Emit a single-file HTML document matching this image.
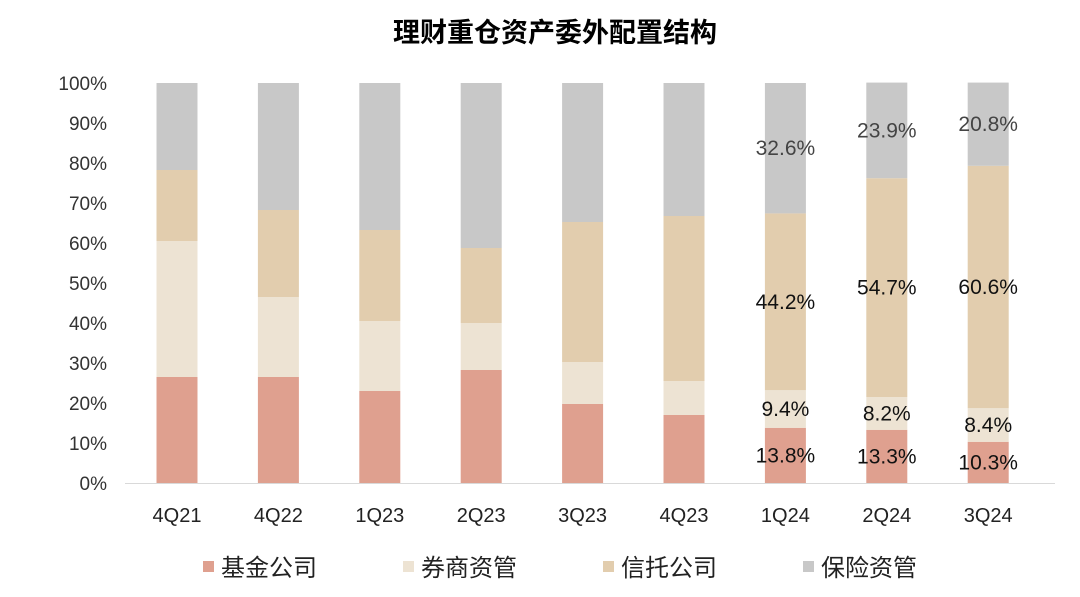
<!DOCTYPE html>
<html><head><meta charset="utf-8"><style>
body{margin:0;background:#fff;}
svg{display:block;font-family:"Liberation Sans","Noto Sans CJK SC",sans-serif;}
</style></head><body>
<svg id="chart" width="1080" height="597">
<text x="555" y="42" text-anchor="middle" font-size="27" font-weight="bold" fill="#000">理财重仓资产委外配置结构</text>
<g id="yaxis"></g><g id="bars"></g><g id="xaxis"></g><g id="legend"></g>
</svg>
<script>
const categories=["4Q21","4Q22","1Q23","2Q23","3Q23","4Q23","1Q24","2Q24","3Q24"];
const seriesNames=["基金公司","券商资管","信托公司","保险资管"];
const fund=[26.5,26.5,23,28.25,19.75,17,13.8,13.3,10.3];
const broker=[34,20,17.5,11.75,10.5,8.5,9.4,8.2,8.4];
const trust=[17.75,21.75,22.75,18.75,35,41.25,44.2,54.7,60.6];
const insurance=[21.75,31.75,36.75,41.25,34.75,33.25,32.6,23.9,20.8];
const labeled=[false,false,false,false,false,false,true,true,true];
const yTicks=[0,10,20,30,40,50,60,70,80,90,100];
const colors=["#DFA08F","#EDE3D3","#E2CDAE","#C8C8C8"];
const NS="http://www.w3.org/2000/svg";
const y0=483,plotH=400,x0=177,step=101.4,bw=41;
const yS=v=>y0-v/100*plotH;
const xS=i=>x0+i*step;
function mk(tag,attrs,parent,text){const e=document.createElementNS(NS,tag);for(const k in attrs)e.setAttribute(k,attrs[k]);if(text!=null)e.textContent=text;parent.appendChild(e);return e;}
const ya=document.getElementById('yaxis');
yTicks.forEach(t=>{const e=mk('text',{x:107,y:yS(t)+7,'text-anchor':'end','font-size':19,fill:'#333'},ya,t+'%');

});
const ax=mk('line',{x1:125,x2:1055,y1:y0+0.5,y2:y0+0.5,stroke:'#d9d9d9','stroke-width':1},ya);


const bars=document.getElementById('bars');
const series=[fund,broker,trust,insurance];
categories.forEach((c,i)=>{let cum=0;
series.forEach((s,k)=>{const v=s[i];const r=mk('rect',{x:xS(i)-bw/2,y:yS(cum+v),width:bw,height:yS(cum)-yS(cum+v),fill:colors[k]},bars);


if(labeled[i]){const t=mk('text',{x:xS(i),y:yS(cum+v/2)+7,'text-anchor':'middle','font-size':21,fill:k==3?'#444':'#111'},bars,v.toFixed(1)+'%');

}
cum+=v;});
const xl=mk('text',{x:xS(i),y:522,'text-anchor':'middle','font-size':20,fill:'#222'},document.getElementById('xaxis'),c);

});
const lg=document.getElementById('legend');
seriesNames.forEach((n,k)=>{const lx=203+k*200;
const r=mk('rect',{x:lx,y:561,width:11,height:11,fill:colors[k]},lg);


const t=mk('text',{x:lx+18,y:576,'font-size':24,fill:'#222'},lg,n);

});
</script>
</body></html>
